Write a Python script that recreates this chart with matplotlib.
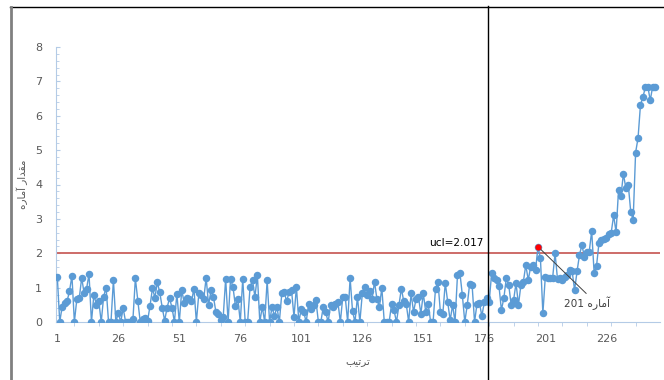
import numpy as np
import matplotlib
matplotlib.use("Agg")
import matplotlib.pyplot as plt
from matplotlib.lines import Line2D

# phase I statistics (samples 1..177)
phase1 = [1.32, 0, 0.45, 0.55, 0.6, 0.9, 1.34, 0, 0.66, 0.69, 1.29, 0.83, 0.97, 1.39, 0, 0.8, 0.5, 0.61, 0, 0.74,
          1.0, 0, 0, 1.22, 0, 0.27, 0, 0.4, 0, 0, 0, 0.08, 1.27, 0.62, 0, 0.08, 0.13, 0.03, 0.47, 0.98,
          0.71, 1.15, 0.86, 0.42, 0.04, 0.42, 0.69, 0.42, 0, 0.82, 0, 0.93, 0.56,
          0.7, 0.66, 0.6, 0.97, 0, 0.83, 0.78, 0.66, 1.29, 0.49, 0.92, 0.73, 0.29, 0.24, 0.05, 0.15, 1.26,
          0, 1.26, 1.02, 0.46, 0.68, 0, 1.26, 0, 0, 1.02, 1.21, 0.73, 1.36, 0, 0.44, 0, 1.21, 0, 0.44, 0.17,
          0.44, 0, 0.83, 0.87, 0.6, 0.87, 0.92, 0.15, 1.02, 0, 0.39, 0.29, 0, 0.53, 0.39, 0.49, 0.63,
          0, 0, 0.44, 0.29, 0, 0.49, 0.44, 0.53, 0.58, 0, 0.73, 0.73, 0, 1.28, 0.31, 0, 0.73, 0, 0.83, 1.02,
          0.78, 0.89, 0.66, 1.17, 0.66, 0.44, 0.99, 0, 0, 0, 0.53, 0.34, 0, 0.49,
          0.97, 0.6, 0.53, 0, 0.83, 0.29, 0.66, 0.73, 0.24, 0.83, 0.29, 0.53, 0, 0, 0.97, 1.17, 0.29, 0.24,
          1.14, 0.58, 0.05, 0.49, 0, 1.36, 1.43, 0.78, 0, 0.49, 1.12, 1.07, 0, 0.53, 0.56, 0.17, 0.58,
          0.7]

# phase II statistics (samples 178..246)
phase2 = [0.59, 1.42, 1.27, 1.22, 1.05, 0.35, 0.69, 1.27, 1.08, 0.5, 0.64, 1.13, 0.5, 1.08, 1.17, 1.66,
          1.22, 1.61, 1.66, 1.51, 2.19, 1.85, 0.25, 1.32, 1.27, 1.27, 1.29, 2.0, 1.24, 1.29, 1.22, 1.3,
          1.37, 1.51, 1.47, 0.93, 1.47, 1.95, 2.24,
          1.9, 2.05, 2.05, 2.65, 1.44, 1.64, 2.31, 2.39, 2.41, 2.44, 2.56, 2.6, 3.1, 2.61, 3.83, 3.67,
          4.31, 3.89, 3.99, 3.21, 2.97, 4.93, 5.35, 6.32, 6.54, 6.83, 6.85, 6.45, 6.85, 6.85]

ucl = 2.017
change_point = 177.5
flagged = 198  # first point above ucl
xtick_labels = [1, 26, 51, 76, 101, 126, 151, 176, 201, 226]

# persian text written in visual order with presentation forms
xlabel_fa = "\uFE90\uFEF4\uFE97\uFEAE\uFE97"  # ترتیب
ylabel_fa = "\uFEE9\uFEAD\uFE8E\uFEE3\uFE81 \uFEAD\uFE8D\uFEAA\uFED8\uFEE3"  # مقدار آماره
note_fa = "201 \uFEE9\uFEAD\uFE8E\uFEE3\uFE81"  # آماره 201

values = np.array(phase1 + phase2)
x = np.arange(1, len(values) + 1)

blue = "#5B9BD5"
axis_col = "#B4CBE6"
text_col = "#595959"

fig = plt.figure(figsize=(6.64, 3.8), dpi=100)
ax = fig.add_axes([56 / 664, 58 / 380, 604 / 664, 275 / 380])

ax.plot(x, values, color=blue, lw=1.0, marker="o", markersize=5.4,
        markeredgewidth=0, zorder=3)
ax.plot([flagged], [values[flagged - 1]], "o", color="#FF0000", markersize=4.5,
        markeredgewidth=0, zorder=4)

ax.axhline(ucl, color="#C9605D", lw=1.3, zorder=2)
ax.axvline(change_point, ymin=-0.211, ymax=1.149, color="black", lw=1.0,
           clip_on=False, zorder=5)

ax.text(175.5, 2.3, "ucl=2.017", ha="right", va="center", fontsize=7.6, color="black")
ax.annotate(note_fa, xy=(flagged, values[flagged - 1]), xytext=(218, 0.55),
            ha="center", va="center", fontsize=7.6, color="#404040",
            family=["DejaVu Sans"],
            arrowprops=dict(arrowstyle="-", color="#404040", lw=0.7,
                            relpos=(0.55, 1.0), shrinkA=0, shrinkB=2))

ax.set_xlim(0.47, 248)
ax.set_ylim(0, 8)
ax.set_xticks(xtick_labels)
ax.set_xticklabels([str(t) for t in xtick_labels])
ax.set_xticks(np.arange(8, 248, 10), minor=True)
ax.set_yticks(range(0, 9))
ax.set_yticks(np.arange(0, 8.01, 0.2), minor=True)

for s in ["top", "right"]:
    ax.spines[s].set_visible(False)
ax.spines["left"].set_color(axis_col)
ax.spines["bottom"].set_color(axis_col)
ax.spines["left"].set_linewidth(0.8)
ax.spines["bottom"].set_linewidth(0.8)

ax.tick_params(axis="x", which="major", length=0, pad=9, labelsize=8, labelcolor=text_col)
ax.tick_params(axis="x", which="minor", length=3, direction="out", color=axis_col)
ax.tick_params(axis="y", which="major", length=3, direction="in", pad=10,
               labelsize=8, labelcolor=text_col, color=axis_col)
ax.tick_params(axis="y", which="minor", length=2, direction="in", color=axis_col)

ax.set_xlabel(xlabel_fa, fontsize=7.5, color=text_col, labelpad=9, family=["DejaVu Sans"])
ax.set_ylabel(ylabel_fa, fontsize=7.5, color=text_col, labelpad=5, family=["DejaVu Sans"])

# chart frame pieces visible in the screenshot
fig.add_artist(Line2D([10 / 664, 1], [1 - 7 / 380, 1 - 7 / 380], color="black", lw=1.0,
                      transform=fig.transFigure))
fig.add_artist(Line2D([11 / 664, 11 / 664], [0, 1 - 7 / 380], color="#808080", lw=2.0,
                      transform=fig.transFigure))

fig.savefig("out.png", dpi=100, facecolor="white")
